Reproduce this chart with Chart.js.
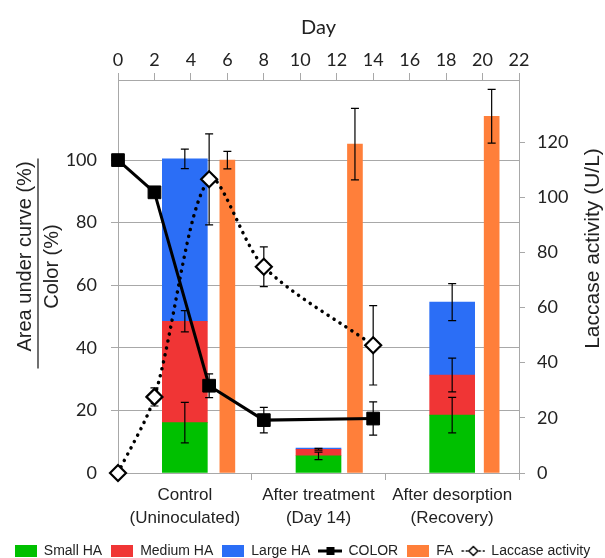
<!DOCTYPE html>
<html>
<head>
<meta charset="utf-8">
<script src="https://cdn.jsdelivr.net/npm/chart.js@4.4.1/dist/chart.umd.min.js"></script>
<style>
  html, body { margin: 0; padding: 0; background: #fff; }
  #wrap { width: 605px; height: 558px; }
</style>
</head>
<body>
<div id="wrap"><canvas id="chart"></canvas></div>
<script>
// categories (bottom axis)
const categories = [["Control", "(Uninoculated)"], ["After treatment", "(Day 14)"], ["After desorption", "(Recovery)"]];

// stacked HA fractions (% area under curve)
const smallHA = [16.1, 5.5, 18.5];
const mediumHA = [32.4, 2.1, 12.8];
const largeHA = [51.9, 0.4, 23.3];
const smallErr = [6.5, 1.2, 5.7];
const mediumErr = [3.4, 0.3, 5.4];
const largeErr = [3.1, 0, 5.9];

// FA bars sit beside each HA stack, at these day positions on the top axis
const faDay = [6, 13, 20.5];
const faArea = [100, 105.1, 114];
const faErr = [2.8, 11.4, 8.6];

// time series (top axis, days)
const days = [0, 2, 5, 8, 14];
const colorPct = [100, 89.7, 27.9, 16.9, 17.4];
const colorErr = [0, 0, 3.8, 4.1, 5.3];
const laccase = [0, 27.6, 106.5, 74.8, 46.3];
const laccaseErr = [0, 3.3, 16.5, 7.2, 14.4];

// tick labels
const dayTicks = [0, 2, 4, 6, 8, 10, 12, 14, 16, 18, 20, 22];
const leftTicks = [0, 20, 40, 60, 80, 100, 120];
const rightTicks = [0, 20, 40, 60, 80, 100, 120, 140];

const GREEN = '#00c000', RED = '#f03535', BLUE = '#2b6ef6', ORANGE = '#ff7f3a';
const GRID = '#a8a8a8';
const TXT = '#222';
const SANS = '"Liberation Sans", Arial, sans-serif';

function boxIcon(color) {
  const c = document.createElement('canvas');
  c.width = 22; c.height = 12;
  const g = c.getContext('2d');
  g.fillStyle = color;
  g.fillRect(0, 0, 22, 12);
  return c;
}
function lineIcon(kind) {
  const c = document.createElement('canvas');
  c.width = 24; c.height = 14;
  const g = c.getContext('2d');
  g.strokeStyle = '#000';
  g.fillStyle = '#000';
  if (kind === 'square') {
    g.lineWidth = 3;
    g.beginPath(); g.moveTo(0, 7); g.lineTo(24, 7); g.stroke();
    g.fillRect(8, 3, 8, 8);
  } else {
    [1.5, 5.5, 18.5, 22.5].forEach(x => { g.beginPath(); g.arc(x, 7, 1.1, 0, Math.PI * 2); g.fill(); });
    g.fillStyle = '#fff'; g.lineWidth = 1.5;
    g.beginPath(); g.moveTo(12, 2.5); g.lineTo(16.5, 7); g.lineTo(12, 11.5); g.lineTo(7.5, 7); g.closePath();
    g.fill(); g.stroke();
  }
  return c;
}
const legendIcons = [boxIcon(GREEN), boxIcon(RED), boxIcon(BLUE), lineIcon('square'), boxIcon(ORANGE), lineIcon('diamond')];

function errorsFor(chart, index) {
  const ds = chart.data.datasets[index];
  if (!ds.errors) return;
  const meta = chart.getDatasetMeta(index);
  const ys = chart.scales[ds.yAxisID];
  const unit = ys.getPixelForValue(0) - ys.getPixelForValue(1);
  const ctx = chart.ctx;
  ctx.save();
  ctx.strokeStyle = '#000';
  ctx.lineWidth = 1.2;
  meta.data.forEach((el, j) => {
    const e = ds.errors[j];
    if (!e) return;
    const d = e * unit, x = el.x, y = el.y;
    ctx.beginPath();
    ctx.moveTo(x, y - d); ctx.lineTo(x, y + d);
    ctx.moveTo(x - 4, y - d); ctx.lineTo(x + 4, y - d);
    ctx.moveTo(x - 4, y + d); ctx.lineTo(x + 4, y + d);
    ctx.stroke();
  });
  ctx.restore();
}
const errorBars = {
  id: 'errorBars',
  afterDatasetDraw(chart, args) {
    if (args.meta.type === 'bar') errorsFor(chart, args.index);
  },
  beforeDatasetDraw(chart, args) {
    if (args.meta.type === 'line') errorsFor(chart, args.index);
  }
};

// axis titles drawn reading bottom-to-top, as in the source figure
const axisText = {
  id: 'axisText',
  afterDraw(chart) {
    const ctx = chart.ctx;
    const yL = chart.scales.yL, yR = chart.scales.yR;
    const mid = (chart.chartArea.top + chart.chartArea.bottom) / 2;
    const vtext = (text, x, y, size) => {
      ctx.save();
      ctx.translate(x, y);
      ctx.rotate(-Math.PI / 2);
      ctx.fillStyle = TXT;
      ctx.font = size + 'px ' + SANS;
      ctx.textAlign = 'center';
      ctx.textBaseline = 'middle';
      ctx.fillText(text, 0, 0);
      ctx.restore();
    };
    vtext('Area under curve (%)', yL.left + 25, mid - 20, 20);
    vtext('Color (%)', yL.left + 52, mid - 10, 20);
    ctx.save();
    ctx.strokeStyle = '#222';
    ctx.lineWidth = 1.3;
    ctx.beginPath();
    ctx.moveTo(yL.left + 38, mid - 118);
    ctx.lineTo(yL.left + 38, mid + 92);
    ctx.stroke();
    ctx.restore();
    vtext('Laccase activity (U/L)', yR.right - 12, mid - 28, 21);
  }
};

const keepTicks = list => scale => {
  scale.ticks = scale.ticks.filter(t => list.includes(t.value));
};

new Chart(document.getElementById('chart'), {
  type: 'bar',
  data: {
    labels: categories,
    datasets: [
      { label: 'Small HA', data: smallHA, errors: smallErr, backgroundColor: GREEN, stack: 'HA',
        xAxisID: 'x', yAxisID: 'yL', order: 1, grouped: false, barThickness: 45 },
      { label: 'Medium HA', data: mediumHA, errors: mediumErr, backgroundColor: RED, stack: 'HA',
        xAxisID: 'x', yAxisID: 'yL', order: 1, grouped: false, barThickness: 45 },
      { label: 'Large HA', data: largeHA, errors: largeErr, backgroundColor: BLUE, stack: 'HA',
        xAxisID: 'x', yAxisID: 'yL', order: 1, grouped: false, barThickness: 45 },
      { type: 'line', label: 'COLOR', data: days.map((d, i) => ({ x: d, y: colorPct[i] })), errors: colorErr,
        xAxisID: 'day', yAxisID: 'yL', order: 0, clip: false, borderColor: '#000', borderWidth: 3, tension: 0,
        pointStyle: 'rect', pointRadius: 9, pointBackgroundColor: '#000', pointBorderColor: '#000', pointBorderWidth: 1 },
      { label: 'FA', data: faDay.map((d, i) => ({ x: d, y: faArea[i] })), errors: faErr, backgroundColor: ORANGE,
        xAxisID: 'day', yAxisID: 'yL', order: 1, grouped: false, barThickness: 15 },
      { type: 'line', label: 'Laccase activity', data: days.map((d, i) => ({ x: d, y: laccase[i] })), errors: laccaseErr,
        xAxisID: 'day', yAxisID: 'yR', order: 0, clip: false, borderColor: '#000', borderWidth: 3.5, borderDash: [0.1, 7],
        borderCapStyle: 'round', tension: 0.3,
        pointStyle: 'rectRot', pointRadius: 8, pointBackgroundColor: '#fff', pointBorderColor: '#000', pointBorderWidth: 2.2 }
    ]
  },
  options: {
    responsive: true,
    maintainAspectRatio: false,
    animation: false,
    layout: { padding: { left: 0, right: 0, top: 0, bottom: -10 } },
    plugins: {
      tooltip: { enabled: false },
      legend: {
        position: 'bottom',
        labels: {
          usePointStyle: true,
          pointStyleWidth: 22,
          padding: 9,
          color: TXT,
          font: { family: SANS, size: 14 },
          generateLabels(chart) {
            const items = Chart.defaults.plugins.legend.labels.generateLabels(chart);
            items.forEach(it => { it.pointStyle = legendIcons[it.datasetIndex]; });
            return items;
          },
          sort: (a, b) => a.datasetIndex - b.datasetIndex
        }
      }
    },
    scales: {
      x: {
        type: 'category',
        position: 'bottom',
        offset: true,
        grid: { offset: true, drawOnChartArea: false, drawTicks: true, tickLength: 7, color: GRID },
        border: { color: GRID },
        ticks: { color: TXT, padding: 3, maxRotation: 0, autoSkip: false,
                 font: { family: SANS, size: 17, lineHeight: 1.4 } },
        afterFit: s => { s.height = 62; }
      },
      day: {
        type: 'linear',
        position: 'top',
        offset: false,
        min: 0, max: 22,
        grid: { offset: false, drawOnChartArea: false, tickLength: 7, color: GRID },
        border: { color: GRID },
        ticks: { stepSize: 2, color: TXT, padding: 2, font: { family: 'Lato, sans-serif', size: 18 } },
        afterBuildTicks: keepTicks(dayTicks),
        title: { display: true, text: 'Day', color: TXT, padding: { top: 16, bottom: 0 },
                 font: { family: 'Lato, sans-serif', size: 20 } },
        afterFit: s => { s.height = 80; }
      },
      yL: {
        type: 'linear',
        position: 'left',
        min: 0, max: 125.6,
        grid: { color: GRID, tickLength: 7, lineWidth: 1 },
        border: { color: GRID },
        ticks: { stepSize: 20, color: TXT, padding: 14, font: { family: 'Lato, sans-serif', size: 18 } },
        afterBuildTicks: keepTicks(leftTicks),
        afterFit: s => { s.width = 118; }
      },
      yR: {
        type: 'linear',
        position: 'right',
        min: 0, max: 142.5,
        grid: { drawOnChartArea: false, tickLength: 6, color: GRID },
        border: { color: GRID },
        ticks: { stepSize: 20, color: TXT, padding: 12, font: { family: 'Lato, sans-serif', size: 18 } },
        afterBuildTicks: keepTicks(rightTicks),
        afterFit: s => { s.width = 86; }
      }
    }
  },
  plugins: [errorBars, axisText]
});
</script>
</body>
</html>
